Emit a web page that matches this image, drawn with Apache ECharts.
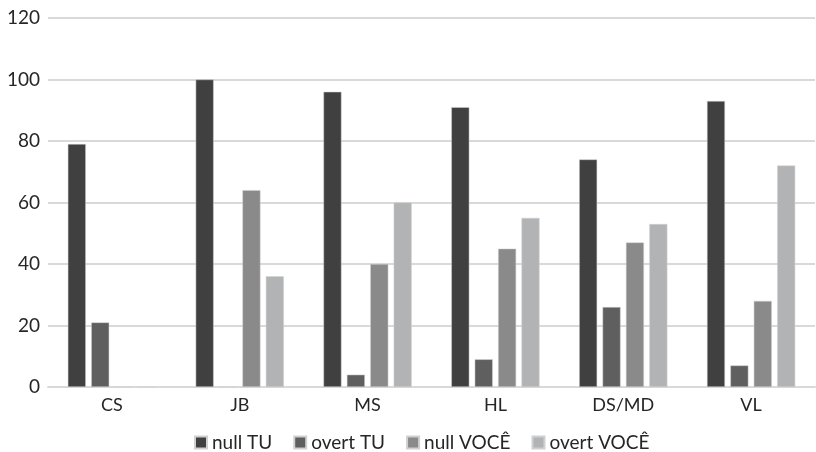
<!DOCTYPE html>
<html><head><meta charset="utf-8">
<script src="https://cdn.jsdelivr.net/npm/echarts@6/dist/echarts.min.js"></script>
<style>html,body{margin:0;padding:0;background:#fff}#c{width:816px;height:452px}</style>
</head><body><div id="c"></div>
<script>
const categories = ['CS','JB','MS','HL','DS/MD','VL'];
const nullTU = [79,100,96,91,74,93];
const overtTU = [21,0,4,9,26,7];
const nullVOCE = [0,64,40,45,47,28];
const overtVOCE = [0,36,60,55,53,72];
const yTicks = [0,20,40,60,80,100,120];

const font = "Lato, 'Open Sans', sans-serif";
const names = ['null TU','overt TU','null VOCÊ','overt VOCÊ'];
const colors = ['#404040','#5f5f5f','#8a8a8a','#b1b3b5'];
const data = [nullTU, overtTU, nullVOCE, overtVOCE];

const chart = echarts.init(document.getElementById('c'));
chart.setOption({
  animation:false,
  grid:{left:48,right:1,top:18,bottom:65,containLabel:false},
  legend:{top:428,left:189,itemWidth:12,itemHeight:12,itemGap:21,icon:'rect',
    textStyle:{fontFamily:font,fontSize:19,color:'#262626'},data:names},
  xAxis:{type:'category',data:categories,
    axisLine:{lineStyle:{color:'#d9d9d9',width:2}},axisTick:{show:false},
    axisLabel:{fontFamily:font,fontSize:18,color:'#262626',margin:9}},
  yAxis:{type:'value',min:yTicks[0],max:yTicks[yTicks.length-1],interval:20,
    axisLine:{show:false},axisTick:{show:false},
    splitLine:{lineStyle:{color:'#d9d9d9',width:2}},
    axisLabel:{fontFamily:font,fontSize:19,color:'#262626',margin:8}},
  series:names.map((n,i)=>({name:n,type:'bar',data:data[i],barWidth:18,barGap:'30%',
    itemStyle:{color:colors[i],borderColor:'#d0d0d0',borderWidth:0.5}}))
});
</script></body></html>
